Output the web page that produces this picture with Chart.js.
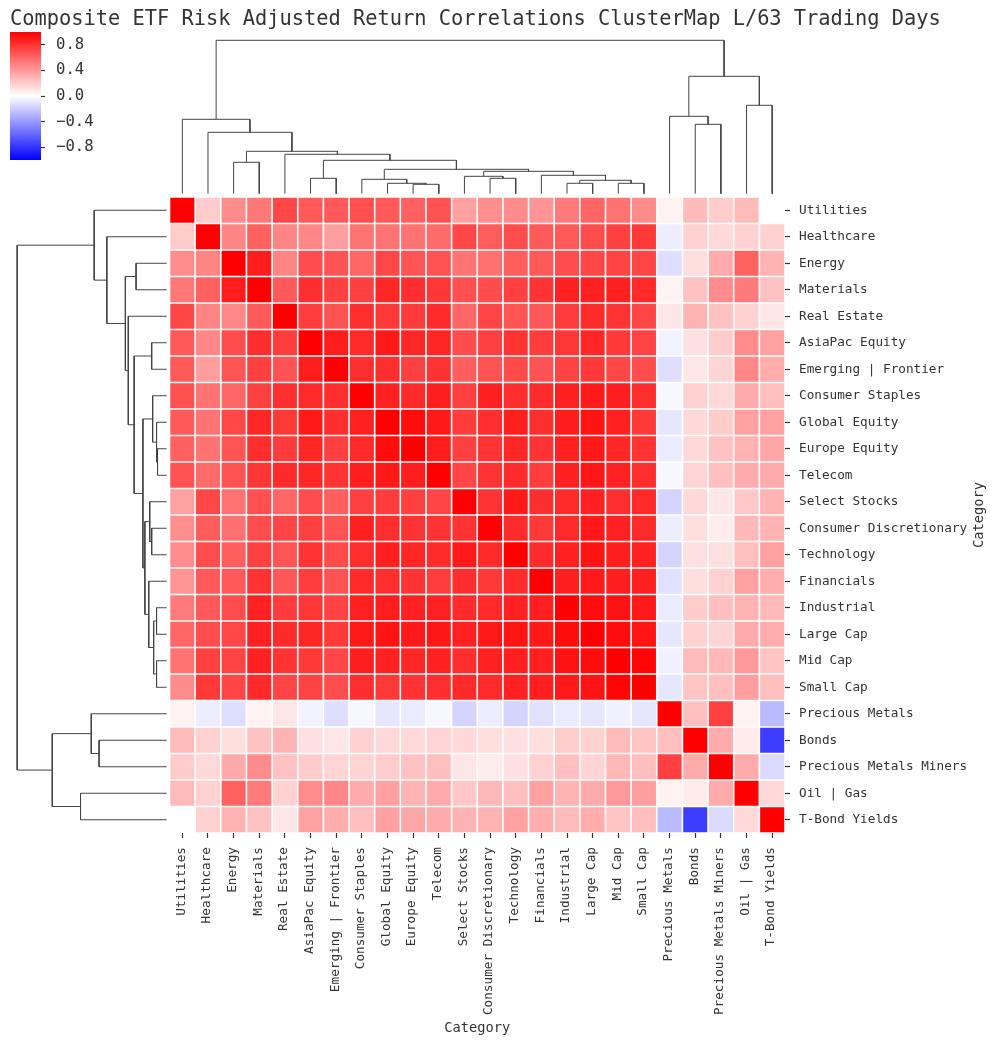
<!DOCTYPE html>
<html>
<head>
<meta charset="utf-8">
<title>Composite ETF Risk Adjusted Return Correlations</title>
<script src="https://cdn.jsdelivr.net/npm/chart.js@4"></script>
<style>
  body { margin: 0; background: #fff; }
  canvas { position: absolute; left: 0; top: 0; }
</style>
</head>
<body>
<canvas id="heat" width="997" height="1045"></canvas>
<canvas id="topTree" width="997" height="1045"></canvas>
<canvas id="leftTree" width="997" height="1045"></canvas>
<canvas id="colorbar" width="997" height="1045"></canvas>
<script>
const chartTitle = 'Composite ETF Risk Adjusted Return Correlations ClusterMap L/63 Trading Days';
const axisTitle = 'Category';

const categories = ['Utilities', 'Healthcare', 'Energy', 'Materials', 'Real Estate', 'AsiaPac Equity',
  'Emerging | Frontier', 'Consumer Staples', 'Global Equity', 'Europe Equity', 'Telecom', 'Select Stocks',
  'Consumer Discretionary', 'Technology', 'Financials', 'Industrial', 'Large Cap', 'Mid Cap', 'Small Cap',
  'Precious Metals', 'Bonds', 'Precious Metals Miners', 'Oil | Gas', 'T-Bond Yields'];

// correlation rows, same order as categories
const utilities = [1, .20, .45, .53, .72, .65, .65, .69, .65, .62, .68, .37, .44, .45, .42, .52, .60, .55, .45, .05, .27, .20, .27, 0];
const healthcare = [.20, 1, .48, .62, .48, .47, .38, .55, .55, .55, .58, .72, .64, .70, .65, .65, .70, .75, .78, -.07, .18, .15, .18, .18];
const energy = [.45, .48, 1, .89, .48, .70, .67, .60, .72, .67, .68, .55, .56, .63, .65, .70, .72, .74, .73, -.13, .13, .33, .62, .30];
const materials = [.53, .62, .89, 1, .65, .82, .75, .75, .85, .82, .79, .69, .70, .75, .80, .87, .87, .87, .84, .05, .24, .45, .52, .24];
const realEstate = [.72, .48, .47, .65, 1, .76, .68, .82, .78, .77, .83, .60, .73, .67, .66, .77, .83, .80, .73, .10, .30, .24, .18, .10];
const asiaPac = [.65, .47, .70, .82, .76, 1, .89, .84, .90, .85, .85, .70, .75, .80, .76, .79, .85, .78, .74, -.05, .12, .20, .45, .37];
const emerging = [.65, .38, .67, .75, .68, .89, 1, .82, .82, .75, .80, .63, .68, .71, .68, .74, .78, .72, .70, -.13, .10, .17, .47, .32];
const consStaples = [.69, .55, .60, .75, .82, .84, .82, 1, .87, .84, .88, .75, .87, .82, .83, .87, .90, .88, .82, -.03, .18, .15, .33, .25];
const globalEquity = [.65, .55, .72, .85, .78, .90, .82, .87, 1, .95, .90, .77, .82, .88, .82, .89, .92, .87, .78, -.10, .15, .20, .37, .37];
const europeEquity = [.62, .55, .67, .82, .77, .85, .75, .84, .95, 1, .89, .75, .80, .85, .80, .87, .90, .85, .80, -.08, .15, .24, .30, .35];
const telecom = [.68, .58, .68, .79, .83, .85, .80, .88, .90, .89, 1, .73, .80, .83, .76, .87, .91, .87, .82, -.03, .17, .25, .33, .33];
const selectStocks = [.37, .72, .55, .69, .60, .70, .63, .75, .77, .75, .73, 1, .80, .90, .82, .83, .87, .82, .84, -.17, .15, .10, .22, .30];
const consDisc = [.44, .64, .56, .70, .73, .75, .68, .87, .82, .80, .80, .80, 1, .83, .78, .84, .90, .87, .83, -.07, .13, .07, .28, .30];
const technology = [.45, .70, .63, .75, .67, .80, .71, .82, .88, .85, .83, .90, .83, 1, .83, .87, .92, .88, .87, -.17, .12, .12, .25, .37];
const financials = [.42, .65, .65, .80, .66, .76, .68, .83, .82, .80, .76, .82, .78, .83, 1, .88, .90, .88, .88, -.12, .13, .18, .37, .32];
const industrial = [.52, .65, .70, .87, .77, .79, .74, .87, .89, .87, .87, .83, .84, .87, .88, 1, .95, .93, .90, -.08, .20, .25, .30, .27];
const largeCap = [.60, .70, .72, .87, .83, .85, .78, .90, .92, .90, .91, .87, .90, .92, .90, .95, 1, .95, .92, -.10, .18, .17, .33, .32];
const midCap = [.55, .75, .74, .87, .80, .78, .72, .88, .87, .85, .87, .82, .87, .88, .88, .93, .95, 1, .98, -.06, .27, .28, .40, .23];
const smallCap = [.45, .78, .73, .84, .73, .74, .70, .82, .78, .80, .82, .84, .83, .87, .88, .90, .92, .98, 1, -.10, .23, .25, .38, .25];
const preciousMetals = [.05, -.07, -.13, .05, .10, -.05, -.13, -.03, -.10, -.08, -.03, -.17, -.07, -.17, -.12, -.08, -.10, -.06, -.10, 1, .25, .75, .05, -.27];
const bonds = [.27, .18, .13, .24, .30, .12, .10, .18, .15, .15, .17, .15, .13, .12, .13, .20, .18, .27, .23, .25, 1, .33, .08, -.76];
const pmMiners = [.20, .15, .33, .45, .24, .20, .17, .17, .20, .24, .25, .10, .07, .12, .18, .25, .17, .28, .25, .75, .33, 1, .33, -.14];
const oilGas = [.27, .18, .62, .52, .18, .45, .47, .33, .37, .30, .33, .22, .28, .25, .37, .30, .33, .40, .38, .05, .08, .33, 1, .15];
const tBond = [0, .18, .30, .24, .10, .37, .32, .25, .37, .35, .33, .30, .30, .37, .32, .27, .32, .23, .25, -.27, -.76, -.14, .15, 1];

const matrix = [utilities, healthcare, energy, materials, realEstate, asiaPac, emerging, consStaples, globalEquity,
  europeEquity, telecom, selectStocks, consDisc, technology, financials, industrial, largeCap, midCap, smallCap,
  preciousMetals, bonds, pmMiners, oilGas, tBond];

// linkage: ids below 24 are leaves, merge n makes cluster 24 + n
const mergeLeft = [9, 8, 7, 12, 11, 15, 17, 29, 14, 28, 26, 5, 35, 4, 2, 38, 1, 0, 20, 19, 22, 43, 41];
const mergeRight = [10, 24, 25, 13, 27, 16, 18, 30, 31, 32, 33, 6, 34, 36, 3, 37, 39, 40, 21, 42, 23, 44, 45];
const mergeHeight = [.188, .208, .288, .308, .348, .208, .208, .268, .368, .448, .488, .308, .668, .788, .628, .848,
  1.228, 1.488, 1.388, 1.548, 1.768, 2.348, 3.068];

const colorbarTicks = [-0.8, -0.4, 0, 0.4, 0.8];

const FONT = "'DejaVu Sans Mono', monospace";
const INK = '#333333';
const PAGE_W = 997, PAGE_H = 1045;
const heatArea = { left: 169.5, top: 197, right: 785, bottom: 833 };

function bwr(v) {
  if (v >= 0) {
    const c = Math.round(255 * (1 - v));
    return `rgb(255,${c},${c})`;
  }
  const c = Math.round(255 * (1 + v));
  return `rgb(${c},${c},255)`;
}

// the heatmap, one floating bar per cell
const cellSets = matrix.map((row, r) => ({
  data: row.map(() => [r, r + 1]),
  backgroundColor: row.map(bwr),
  borderColor: '#ffffff',
  borderWidth: 0.8,
  borderSkipped: false,
  inflateAmount: 0,
  grouped: false,
  barPercentage: 1,
  categoryPercentage: 1,
}));

const textPlugin = {
  id: 'pageText',
  afterDraw(chart) {
    const ctx = chart.ctx;
    ctx.save();
    ctx.fillStyle = INK;
    ctx.textBaseline = 'middle';
    ctx.font = `20.35px ${FONT}`;
    ctx.textAlign = 'left';
    ctx.fillText(chartTitle, 10, 20);
    ctx.translate(979, 515);
    ctx.rotate(-Math.PI / 2);
    ctx.textAlign = 'center';
    ctx.font = `13.7px ${FONT}`;
    ctx.fillText(axisTitle, 0, 0);
    ctx.restore();
  }
};

new Chart(document.getElementById('heat'), {
  type: 'bar',
  data: { labels: categories, datasets: cellSets },
  plugins: [textPlugin],
  options: {
    responsive: false,
    animation: false,
    events: [],
    layout: { padding: { left: heatArea.left, top: heatArea.top } },
    plugins: { legend: { display: false }, tooltip: { enabled: false } },
    scales: {
      x: {
        position: 'bottom',
        afterFit: s => { s.height = PAGE_H - heatArea.bottom; },
        grid: { offset: false, drawOnChartArea: false, tickLength: 5, tickColor: INK, tickWidth: 1.2 },
        border: { display: false },
        ticks: { color: INK, font: { family: FONT, size: 12.7 }, padding: 9, labelOffset: -1, minRotation: 90, maxRotation: 90, autoSkip: false },
        title: { display: true, text: axisTitle, color: INK, font: { family: FONT, size: 13.7 }, padding: { top: 0, bottom: 8 } },
      },
      y: {
        type: 'linear',
        position: 'right',
        min: 0,
        max: 24,
        reverse: true,
        afterFit: s => { s.width = PAGE_W - heatArea.right; },
        afterBuildTicks: s => { s.ticks = categories.map((c, i) => ({ value: i + 0.5 })); },
        grid: { drawOnChartArea: false, tickLength: 5, tickColor: INK, tickWidth: 1.2 },
        border: { display: false },
        ticks: {
          color: INK,
          font: { family: FONT, size: 12.7 },
          padding: 9,
          autoSkip: false,
          callback: v => categories[v - 0.5],
        },
      },
    },
  },
});

// walks the linkage and gives each merge its bracket as [position, height] points
function treeBrackets() {
  const pos = categories.map((c, i) => i + 0.5);
  const height = categories.map(() => 0);
  return mergeLeft.map((a, n) => {
    const b = mergeRight[n], h = mergeHeight[n];
    const pts = [[pos[a], height[a]], [pos[a], h], [pos[b], h], [pos[b], height[b]]];
    pos.push((pos[a] + pos[b]) / 2);
    height.push(h);
    return pts;
  });
}

const brackets = treeBrackets();
const treeMax = 3.174;
const lineStyle = { type: 'scatter', showLine: true, pointRadius: 0, borderColor: '#444444', borderWidth: 1, tension: 0, clip: false };

new Chart(document.getElementById('topTree'), {
  type: 'scatter',
  data: { datasets: brackets.map(pts => ({ ...lineStyle, data: pts.map(p => ({ x: p[0], y: p[1] })) })) },
  options: {
    responsive: false,
    animation: false,
    events: [],
    layout: { padding: { left: heatArea.left, right: PAGE_W - heatArea.right, top: 35, bottom: PAGE_H - 193.7 } },
    plugins: { legend: { display: false }, tooltip: { enabled: false } },
    scales: {
      x: { type: 'linear', display: false, min: 0, max: 24 },
      y: { type: 'linear', display: false, min: 0, max: treeMax },
    },
  },
});

new Chart(document.getElementById('leftTree'), {
  type: 'scatter',
  data: { datasets: brackets.map(pts => ({ ...lineStyle, data: pts.map(p => ({ x: p[1], y: p[0] })) })) },
  options: {
    responsive: false,
    animation: false,
    events: [],
    layout: { padding: { left: 12, right: PAGE_W - 166.7, top: heatArea.top, bottom: PAGE_H - heatArea.bottom } },
    plugins: { legend: { display: false }, tooltip: { enabled: false } },
    scales: {
      x: { type: 'linear', display: false, min: 0, max: treeMax, reverse: true },
      y: { type: 'linear', display: false, min: 0, max: 24, reverse: true },
    },
  },
});

new Chart(document.getElementById('colorbar'), {
  type: 'bar',
  data: {
    labels: [''],
    datasets: [{
      data: [[-1, 1]],
      barPercentage: 1,
      categoryPercentage: 1,
      inflateAmount: 0,
      backgroundColor: ctx => {
        const area = ctx.chart.chartArea;
        if (!area) return '#fff';
        const g = ctx.chart.ctx.createLinearGradient(0, area.bottom, 0, area.top);
        g.addColorStop(0, '#0000ff');
        g.addColorStop(0.5, '#ffffff');
        g.addColorStop(1, '#ff0000');
        return g;
      },
    }],
  },
  options: {
    responsive: false,
    animation: false,
    events: [],
    layout: { padding: { left: 10, top: 32, bottom: PAGE_H - 160, right: PAGE_W - 110 } },
    plugins: { legend: { display: false }, tooltip: { enabled: false } },
    scales: {
      x: { display: false },
      y: {
        type: 'linear',
        position: 'right',
        min: -1,
        max: 1,
        afterFit: s => { s.width = 69; },
        afterBuildTicks: s => { s.ticks = colorbarTicks.map(v => ({ value: v })); },
        grid: { drawOnChartArea: false, tickLength: 4, tickColor: INK, tickWidth: 1.2 },
        border: { display: false },
        ticks: {
          color: INK,
          font: { family: FONT, size: 15.6 },
          padding: 11,
          callback: v => v.toFixed(1).replace('-', '\u2212'),
        },
      },
    },
  },
});
</script>
</body>
</html>
